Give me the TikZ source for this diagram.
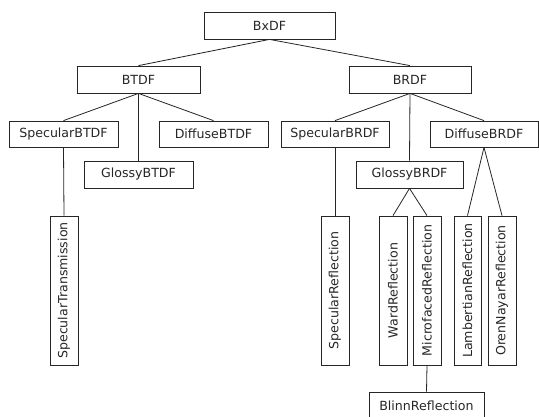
\documentclass[tikz,border=0pt]{standalone}
\usepackage{fontspec}
\usepackage{graphicx}
\setmainfont{DejaVu Sans}
\begin{document}
\begin{tikzpicture}[x=1pt,y=-1pt,
  box/.style={draw=black!85, line width=0.8pt, inner sep=0pt, minimum height=27pt,
    font=\fontsize{12.6}{14}\selectfont, text=black!85},
  vbox/.style={box, minimum width=28pt, minimum height=149pt},
  link/.style={draw=black!85, line width=0.8pt}]
\useasboundingbox (0,0) rectangle (539,416);
\node[box, minimum width=131pt] (bxdf) at (269.5,25.5) {BxDF};
\node[box, minimum width=123pt] (btdf) at (138.5,79.5) {BTDF};
\node[box, minimum width=122pt] (brdf) at (410,79.5) {BRDF};
\node[box, minimum width=109pt, minimum height=26pt] (sbtdf) at (63.5,134) {SpecularBTDF};
\node[box, minimum width=109pt] (gbtdf) at (138.5,174.5) {GlossyBTDF};
\node[box, minimum width=109pt, minimum height=26pt] (dbtdf) at (213.5,134) {DiffuseBTDF};
\node[box, minimum width=108pt, minimum height=26pt] (sbrdf) at (335,134) {SpecularBRDF};
\node[box, minimum width=107pt] (gbrdf) at (409.5,174.5) {GlossyBRDF};
\node[box, minimum width=108pt, minimum height=26pt] (dbrdf) at (484,134) {DiffuseBRDF};
\node[vbox] (strans) at (64,290.5) {\rotatebox{90}{SpecularTransmission}};
\node[vbox] (srefl) at (335,290.5) {\rotatebox{90}{SpecularReflection}};
\node[vbox] (wrefl) at (393,290.5) {\rotatebox{90}{WardReflection}};
\node[vbox] (mrefl) at (427,290.5) {\rotatebox{90}{MicrofacedReflection}};
\node[vbox, minimum width=27pt] (lrefl) at (467.5,290.5) {\rotatebox{90}{LambertianReflection}};
\node[vbox] (orefl) at (502,290.5) {\rotatebox{90}{OrenNayarReflection}};
\node[box, minimum width=115pt] (blinn) at (426.5,405.5) {BlinnReflection};
\draw[link] (bxdf.south) -- (btdf.north);
\draw[link] (bxdf.south) -- (brdf.north);
\draw[link] (btdf.south) -- (sbtdf.north);
\draw[link] (btdf.south) -- (gbtdf.north);
\draw[link] (btdf.south) -- (dbtdf.north);
\draw[link] (brdf.south) -- (sbrdf.north);
\draw[link] (brdf.south) -- (gbrdf.north);
\draw[link] (brdf.south) -- (dbrdf.north);
\draw[link] (sbtdf.south) -- (strans.north);
\draw[link] (sbrdf.south) -- (srefl.north);
\draw[link] (gbrdf.south) -- (wrefl.north);
\draw[link] (gbrdf.south) -- (mrefl.north);
\draw[link] (dbrdf.south) -- (lrefl.north);
\draw[link] (dbrdf.south) -- (orefl.north);
\draw[link] (mrefl.south) -- (blinn.north);
\end{tikzpicture}
\end{document}
